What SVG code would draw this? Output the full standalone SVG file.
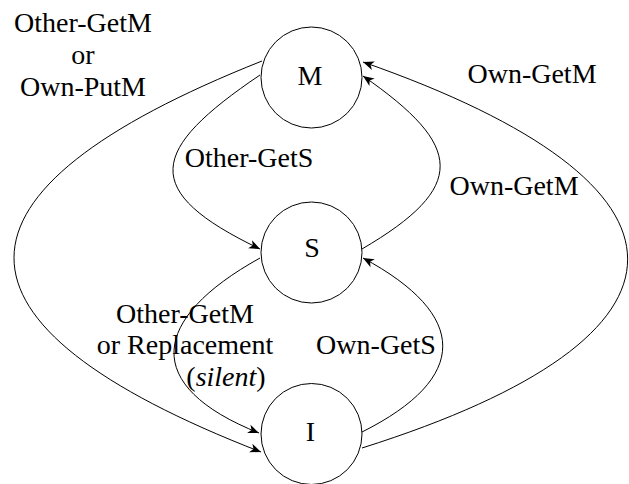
<svg xmlns="http://www.w3.org/2000/svg" width="629" height="484" viewBox="0 0 629 484">
<style>
.node{fill:#fff;stroke:#000;stroke-width:1}
.lbl{font-family:'Liberation Serif','DejaVu Serif',serif;font-size:28px;fill:#000;text-anchor:middle}
.edge{fill:none;stroke:#000;stroke-width:1;marker-end:url(#arr)}
</style>
<defs>
<marker id="arr" markerUnits="userSpaceOnUse" markerWidth="14" markerHeight="12" refX="12" refY="6" orient="auto">
<path d="M12,6 L1,1.5 L4,6 L1,10.5 Z" fill="#000"/>
</marker>
</defs>
<rect width="629" height="484" fill="#fff"/>
<g id="connectors">
<path id="e-M-I" class="edge" d="M262,61 C-68,192 -69,324 261,452"/>
<path id="e-I-M" class="edge" d="M362,448 C717,336 715,185 363,62"/>
<path id="e-M-S" class="edge" d="M260,75 C149,150 139,191 260,249"/>
<path id="e-S-M" class="edge" d="M362,249 C468,187 464,146 363,76"/>
<path id="e-S-I" class="edge" d="M260,258 C150,319 141,386 259,433"/>
<path id="e-I-S" class="edge" d="M362,432 C470,378 469,315 363,258"/>
</g>
<g id="edge-labels">
<text class="lbl" x="83" y="32" font-family="Liberation Serif, serif">Other-GetM</text>
<text class="lbl" x="83" y="64">or</text>
<text class="lbl" x="83" y="96">Own-PutM</text>
<text class="lbl" x="532" y="83">Own-GetM</text>
<text class="lbl" x="249" y="167">Other-GetS</text>
<text class="lbl" x="514" y="195">Own-GetM</text>
<text class="lbl" x="185" y="323">Other-GetM</text>
<text class="lbl" x="185" y="354">or Replacement</text>
<text class="lbl" x="226" y="386">(<tspan font-style="italic">silent</tspan>)</text>
<text class="lbl" x="376" y="354">Own-GetS</text>
</g>
<g id="node-M">
<circle class="node" cx="311.5" cy="77.5" r="50.5"/>
<text class="lbl" x="310" y="85">M</text>
</g>
<g id="node-S">
<circle class="node" cx="311.5" cy="252.5" r="50.5"/>
<text class="lbl" x="312" y="257">S</text>
</g>
<g id="node-I">
<circle class="node" cx="311.5" cy="434" r="50.5"/>
<text class="lbl" x="310.5" y="441">I</text>
</g>
</svg>
